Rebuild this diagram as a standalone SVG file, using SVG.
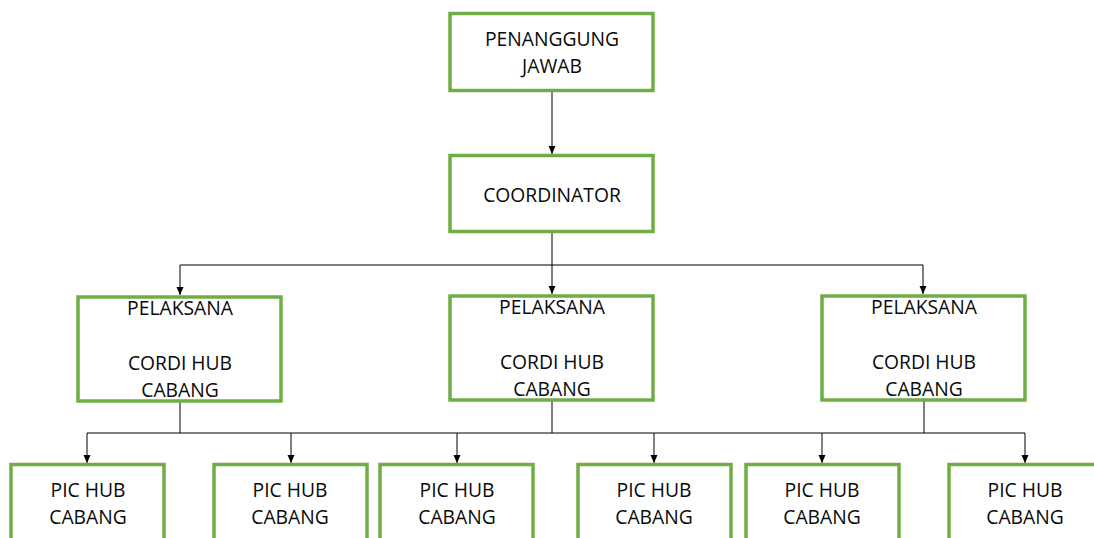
<svg xmlns="http://www.w3.org/2000/svg" width="1094" height="538" viewBox="0 0 1094 538">
<style>
.box{fill:#fff;stroke:#70AD47;stroke-width:3.5}
.t{font-family:"Open Sans","Noto Sans",sans-serif;font-size:19.3px;fill:#0a0a0a;text-anchor:middle}
.c{fill:none;stroke:#000;stroke-width:1}
</style>
<defs>
<marker id="ah" viewBox="0 0 8 8" refX="8" refY="4" markerWidth="8" markerHeight="8" markerUnits="userSpaceOnUse" orient="auto">
<path d="M0,0.5 L8,4 L0,7.5 Z" fill="#000"/>
</marker>
</defs>
<rect width="1094" height="538" fill="#fff"/>
<g id="connectors">
<path class="c" d="M552,91 V154" marker-end="url(#ah)"/>
<path class="c" d="M552,232 V265 M180,265 H923"/>
<path class="c" d="M180,265 V295" marker-end="url(#ah)"/>
<path class="c" d="M552,265 V294" marker-end="url(#ah)"/>
<path class="c" d="M923,265 V294" marker-end="url(#ah)"/>
<path class="c" d="M180,401 V433 M924,400 V433 M87,433 H1025"/>
<path class="c" d="M552,400 V433" stroke-width="1.8"/>
<path class="c" d="M87,433 V463" marker-end="url(#ah)"/>
<path class="c" d="M291,433 V463" marker-end="url(#ah)"/>
<path class="c" d="M457,433 V463" marker-end="url(#ah)"/>
<path class="c" d="M654,433 V463" marker-end="url(#ah)"/>
<path class="c" d="M822,433 V463" marker-end="url(#ah)"/>
<path class="c" d="M1025,433 V463" marker-end="url(#ah)"/>
</g>
<g id="penanggung">
<rect class="box" x="450" y="13.5" width="203" height="77"/>
<text class="t" x="552" y="46">PENANGGUNG</text>
<text class="t" x="552" y="73">JAWAB</text>
</g>
<g id="coordinator">
<rect class="box" x="450" y="155.5" width="203" height="76"/>
<text class="t" x="552" y="202">COORDINATOR</text>
</g>
<g id="pelaksana1">
<rect class="box" x="78" y="297" width="203" height="104"/>
<text class="t" x="180" y="315">PELAKSANA</text>
<text class="t" x="180" y="370">CORDI HUB</text>
<text class="t" x="180" y="397">CABANG</text>
</g>
<g id="pelaksana2">
<rect class="box" x="450" y="296" width="203" height="104"/>
<text class="t" x="552" y="314">PELAKSANA</text>
<text class="t" x="552" y="369">CORDI HUB</text>
<text class="t" x="552" y="396">CABANG</text>
</g>
<g id="pelaksana3">
<rect class="box" x="822" y="296" width="203" height="104"/>
<text class="t" x="924" y="314">PELAKSANA</text>
<text class="t" x="924" y="369">CORDI HUB</text>
<text class="t" x="924" y="396">CABANG</text>
</g>
<g id="pic1">
<rect class="box" x="11" y="464.5" width="153" height="90"/>
<text class="t" x="88" y="497">PIC HUB</text>
<text class="t" x="88" y="524">CABANG</text>
</g>
<g id="pic2">
<rect class="box" x="214" y="464.5" width="153" height="90"/>
<text class="t" x="290" y="497">PIC HUB</text>
<text class="t" x="290" y="524">CABANG</text>
</g>
<g id="pic3">
<rect class="box" x="380" y="464.5" width="153" height="90"/>
<text class="t" x="457" y="497">PIC HUB</text>
<text class="t" x="457" y="524">CABANG</text>
</g>
<g id="pic4">
<rect class="box" x="578" y="464.5" width="153" height="90"/>
<text class="t" x="654" y="497">PIC HUB</text>
<text class="t" x="654" y="524">CABANG</text>
</g>
<g id="pic5">
<rect class="box" x="746" y="464.5" width="153" height="90"/>
<text class="t" x="822" y="497">PIC HUB</text>
<text class="t" x="822" y="524">CABANG</text>
</g>
<g id="pic6">
<rect class="box" x="949" y="464.5" width="153" height="90"/>
<text class="t" x="1025" y="497">PIC HUB</text>
<text class="t" x="1025" y="524">CABANG</text>
</g>
</svg>
